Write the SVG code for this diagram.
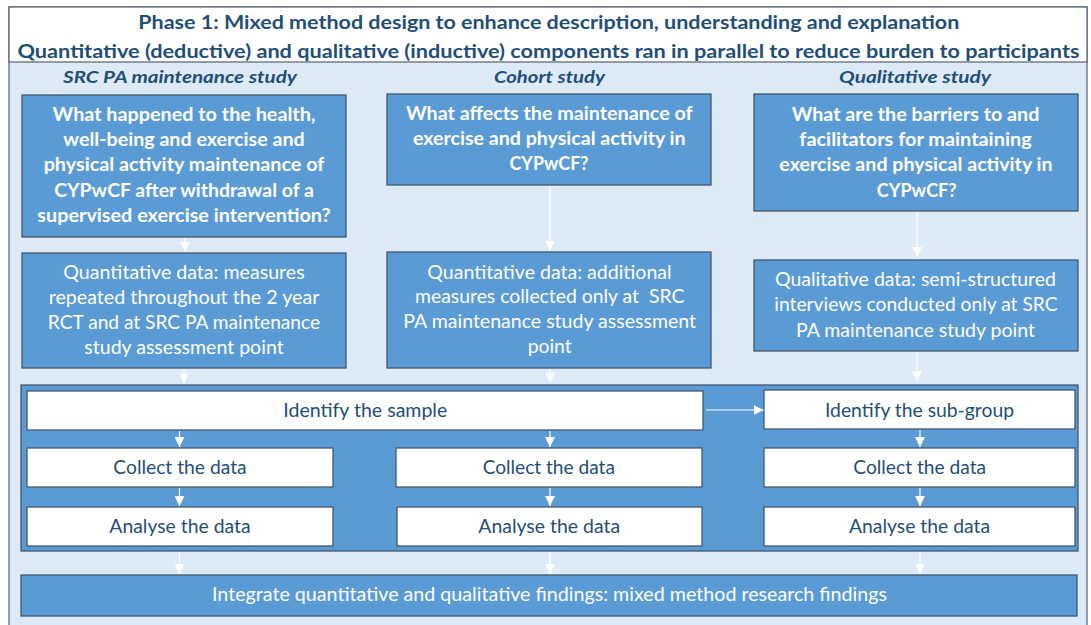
<svg xmlns="http://www.w3.org/2000/svg" width="1091" height="625" viewBox="0 0 1091 625">
<style>
.frame{fill:#DEEBF7;stroke:#5E6B7C;stroke-width:1.3}
.head{fill:#FFFFFF;stroke:#5E6B7C;stroke-width:1.3}
.box{fill:#5B9BD5;stroke:#45586E;stroke-width:1.3}
.wbox{fill:#FFFFFF;stroke:#45586E;stroke-width:1.3}
text{font-family:Lato,"Open Sans","Liberation Sans",sans-serif;text-anchor:middle}
.title{font-size:19.5px;font-weight:bold;fill:#1F4E79}
.col{font-size:17px;font-weight:bold;font-style:italic;fill:#1F4E79}
.q{font-size:18px;font-weight:bold;fill:#FFFFFF}
.d{font-size:18.5px;fill:#FFFFFF}
.w{font-size:18.5px;fill:#1F4E79}
.conn line{stroke:#FFFFFF;stroke-width:1.2;fill:none;marker-end:url(#ah)}
</style>
<defs>
<marker id="ah" markerUnits="userSpaceOnUse" markerWidth="10" markerHeight="10" refX="10" refY="5" orient="auto">
<path d="M0,0 L10,5 L0,10 Z" fill="#FFFFFF"/>
</marker>
</defs>

<g id="frame">
<rect class="frame" x="9" y="7" width="1078" height="625"/>
<rect class="head" x="9" y="7" width="1078" height="55"/>
<text class="title" x="548.8" y="29.3" textLength="821" lengthAdjust="spacingAndGlyphs">Phase 1: Mixed method design to enhance description, understanding and explanation</text>
<text class="title" x="548.5" y="57.7" textLength="1062" lengthAdjust="spacingAndGlyphs">Quantitative (deductive) and qualitative (inductive) components ran in parallel to reduce burden to participants</text>
<text class="col" x="180" y="83.3" textLength="234" lengthAdjust="spacingAndGlyphs">SRC PA maintenance study</text>
<text class="col" x="549.5" y="83.3" textLength="111" lengthAdjust="spacingAndGlyphs">Cohort study</text>
<text class="col" x="915" y="83.3" textLength="152" lengthAdjust="spacingAndGlyphs">Qualitative study</text>
</g>

<g id="q-src">
<rect class="box" x="22" y="95" width="324" height="142"/>
<text class="q" x="184" y="120.7" textLength="263" lengthAdjust="spacingAndGlyphs">What happened to the health,</text>
<text class="q" x="184" y="145.9" textLength="241.3" lengthAdjust="spacingAndGlyphs">well-being and exercise and</text>
<text class="q" x="184" y="171.2" textLength="280.7" lengthAdjust="spacingAndGlyphs">physical activity maintenance of</text>
<text class="q" x="184" y="196.5" textLength="259.7" lengthAdjust="spacingAndGlyphs">CYPwCF after withdrawal of a</text>
<text class="q" x="184" y="221.7" textLength="293.3" lengthAdjust="spacingAndGlyphs">supervised exercise intervention?</text>
</g>

<g id="d-src">
<rect class="box" x="22" y="253" width="324" height="115"/>
<text class="d" x="184" y="279.3" textLength="241.3" lengthAdjust="spacingAndGlyphs">Quantitative data: measures</text>
<text class="d" x="184" y="304.3" textLength="270.7" lengthAdjust="spacingAndGlyphs">repeated throughout the 2 year</text>
<text class="d" x="184" y="329.3" textLength="272.3" lengthAdjust="spacingAndGlyphs">RCT and at SRC PA maintenance</text>
<text class="d" x="184" y="354.3" textLength="199.3" lengthAdjust="spacingAndGlyphs">study assessment point</text>
</g>

<g id="q-cohort">
<rect class="box" x="387" y="94" width="324" height="91"/>
<text class="q" x="549.3" y="120" textLength="286.7" lengthAdjust="spacingAndGlyphs">What affects the maintenance of</text>
<text class="q" x="549.3" y="145" textLength="272.7" lengthAdjust="spacingAndGlyphs">exercise and physical activity in</text>
<text class="q" x="549" y="170" textLength="79" lengthAdjust="spacingAndGlyphs">CYPwCF?</text>
</g>

<g id="d-cohort">
<rect class="box" x="387" y="252" width="324" height="116"/>
<text class="d" x="549.5" y="278.5" textLength="244.3" lengthAdjust="spacingAndGlyphs">Quantitative data: additional</text>
<text class="d" x="549.7" y="303.3" textLength="269.3" lengthAdjust="spacingAndGlyphs" style="white-space:pre">measures collected only at  SRC</text>
<text class="d" x="549.7" y="328.2" textLength="292.7" lengthAdjust="spacingAndGlyphs">PA maintenance study assessment</text>
<text class="d" x="549.7" y="353.2" textLength="44" lengthAdjust="spacingAndGlyphs">point</text>
</g>

<g id="q-qual">
<rect class="box" x="754" y="94" width="324" height="117"/>
<text class="q" x="915.5" y="120.7" textLength="247.7" lengthAdjust="spacingAndGlyphs">What are the barriers to and</text>
<text class="q" x="915.5" y="145.9" textLength="232.3" lengthAdjust="spacingAndGlyphs">facilitators for maintaining</text>
<text class="q" x="916" y="171.2" textLength="273.3" lengthAdjust="spacingAndGlyphs">exercise and physical activity in</text>
<text class="q" x="916.7" y="196.5" textLength="80" lengthAdjust="spacingAndGlyphs">CYPwCF?</text>
</g>

<g id="d-qual">
<rect class="box" x="754" y="260" width="324" height="91"/>
<text class="d" x="915.5" y="286.2" textLength="281" lengthAdjust="spacingAndGlyphs">Qualitative data: semi-structured</text>
<text class="d" x="916" y="311.3" textLength="283.3" lengthAdjust="spacingAndGlyphs">interviews conducted only at SRC</text>
<text class="d" x="915.5" y="336.5" textLength="239" lengthAdjust="spacingAndGlyphs">PA maintenance study point</text>
</g>

<g id="process">
<rect class="box" x="21" y="385" width="1057" height="166"/>
</g>

<g id="identify-sample">
<rect class="wbox" x="27" y="391" width="676" height="39"/>
<text class="w" x="365.3" y="417" textLength="164" lengthAdjust="spacingAndGlyphs">Identify the sample</text>
</g>
<g id="identify-subgroup">
<rect class="wbox" x="764" y="390" width="311" height="39"/>
<text class="w" x="919.5" y="416.7" textLength="189" lengthAdjust="spacingAndGlyphs">Identify the sub-group</text>
</g>
<g id="collect-1">
<rect class="wbox" x="27" y="448" width="306" height="39"/>
<text class="w" x="180" y="474.3" textLength="133.3" lengthAdjust="spacingAndGlyphs">Collect the data</text>
</g>
<g id="collect-2">
<rect class="wbox" x="396" y="448" width="306" height="39"/>
<text class="w" x="548.8" y="474.3" textLength="132.3" lengthAdjust="spacingAndGlyphs">Collect the data</text>
</g>
<g id="collect-3">
<rect class="wbox" x="764" y="448" width="311" height="39"/>
<text class="w" x="919.7" y="474.3" textLength="132.7" lengthAdjust="spacingAndGlyphs">Collect the data</text>
</g>
<g id="analyse-1">
<rect class="wbox" x="27" y="507" width="306" height="39"/>
<text class="w" x="180" y="532.7" textLength="141.3" lengthAdjust="spacingAndGlyphs">Analyse the data</text>
</g>
<g id="analyse-2">
<rect class="wbox" x="397" y="507" width="305" height="39"/>
<text class="w" x="549.2" y="532.7" textLength="141.7" lengthAdjust="spacingAndGlyphs">Analyse the data</text>
</g>
<g id="analyse-3">
<rect class="wbox" x="764" y="507" width="311" height="39"/>
<text class="w" x="919.5" y="532.7" textLength="141" lengthAdjust="spacingAndGlyphs">Analyse the data</text>
</g>

<g id="integrate">
<rect class="box" x="21" y="575" width="1056" height="41"/>
<text class="d" x="549.5" y="601" textLength="675" lengthAdjust="spacingAndGlyphs">Integrate quantitative and qualitative findings: mixed method research findings</text>
</g>

<g id="connectors" class="conn">
<line x1="185" y1="238" x2="185" y2="251.5"/>
<line x1="184" y1="369" x2="184" y2="383.5"/>
<line x1="550" y1="186" x2="550" y2="250.5"/>
<line x1="550" y1="369" x2="550" y2="382.5"/>
<line x1="917" y1="212" x2="917" y2="257"/>
<line x1="917" y1="352" x2="917" y2="381"/>
<line x1="179.5" y1="431" x2="179.5" y2="447"/>
<line x1="179.5" y1="488" x2="179.5" y2="506"/>
<line x1="550" y1="431" x2="550" y2="447"/>
<line x1="550" y1="488" x2="550" y2="506"/>
<line x1="920" y1="430" x2="920" y2="447"/>
<line x1="920" y1="488" x2="920" y2="506"/>
<line x1="706" y1="410" x2="763.5" y2="410"/>
<line x1="179.5" y1="552" x2="179.5" y2="574"/>
<line x1="550" y1="552" x2="550" y2="574"/>
<line x1="920" y1="552" x2="920" y2="574"/>
</g>
</svg>
